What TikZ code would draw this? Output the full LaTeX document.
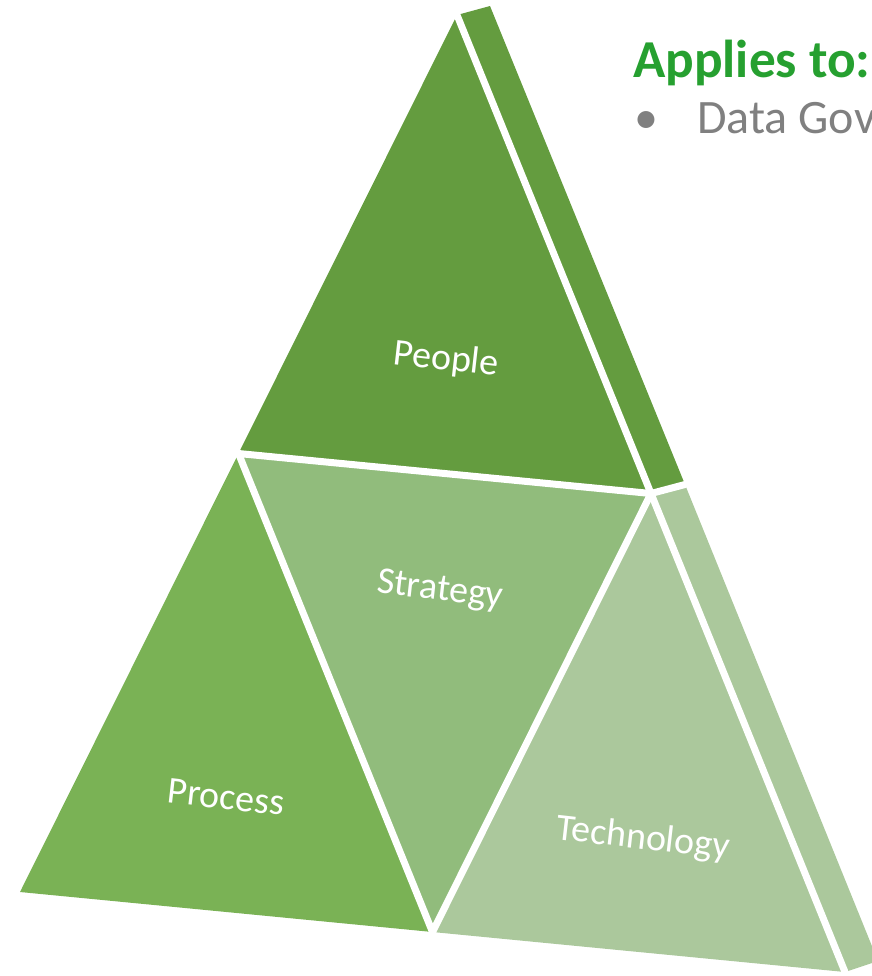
\documentclass[tikz,border=0pt]{standalone}
\usepackage{fontspec}
\setmainfont{Carlito}
\usepackage{xcolor}
\usepackage{tikz}
\usetikzlibrary{calc, positioning}
\definecolor{peoplegreen}{RGB}{100,156,63}
\definecolor{processgreen}{RGB}{122,178,85}
\definecolor{strategygreen}{RGB}{145,188,124}
\definecolor{techgreen}{RGB}{171,200,156}
\definecolor{titlegreen}{RGB}{38,160,48}
\definecolor{itemgray}{RGB}{128,128,128}

\begin{document}
\begin{tikzpicture}[x=0.75pt, y=-0.75pt,
    gap/.style={white, line width=5.25pt, line cap=round},
    facelabel/.style={text=white, font=\fontsize{28.5}{34}\selectfont, anchor=base, inner sep=0pt, rotate=-6.5}]
  \useasboundingbox (0,0) rectangle (872,976);
  \coordinate (A) at (457,15);
  \coordinate (B) at (20,892);
  \coordinate (C) at (845,972);
  \coordinate (AB) at ($(A)!0.5!(B)$);
  \coordinate (AC) at ($(A)!0.5!(C)$);
  \coordinate (BC) at ($(B)!0.5!(C)$);
  \coordinate (As) at ($(A)+(33,-9)$);
  \coordinate (ACs) at ($(AC)+(34,-9)$);
  \coordinate (Cs) at ($(C)+(33,-11)$);
  \fill[peoplegreen] (A) -- (As) -- (ACs) -- (AC) -- cycle;
  \fill[techgreen] (AC) -- (ACs) -- (Cs) -- (C) -- cycle;
  \fill[peoplegreen] (A) -- (AB) -- (AC) -- cycle;
  \fill[processgreen] (AB) -- (B) -- (BC) -- cycle;
  \fill[strategygreen] (AB) -- (AC) -- (BC) -- cycle;
  \fill[techgreen] (AC) -- (BC) -- (C) -- cycle;
  \draw[gap] (A) -- (C);
  \draw[gap] (AB) -- (AC) -- (BC) -- cycle;
  \draw[gap] (AC) -- (ACs);
  \node[facelabel] (people) at (445,370) {People};
  \node[facelabel] (strategy) at (439,600) {Strategy};
  \node[facelabel] (process) at (225,809) {Process};
  \node[facelabel] (technology) at (642,849) {Technology};
  \node[anchor=base west, inner sep=0pt, text=titlegreen, font=\bfseries\fontsize{40}{48}\selectfont] (title) at (633,77) {Applies to:};
  \node[anchor=base west, inner sep=0pt, text=itemgray, font=\fontsize{36}{43}\selectfont] (bullet) at (634,133) {\textbullet};
  \node[anchor=base west, inner sep=0pt, text=itemgray, font=\fontsize{36}{43}\selectfont] (item) at (697,133) {Data Gov};
\end{tikzpicture}
\end{document}
